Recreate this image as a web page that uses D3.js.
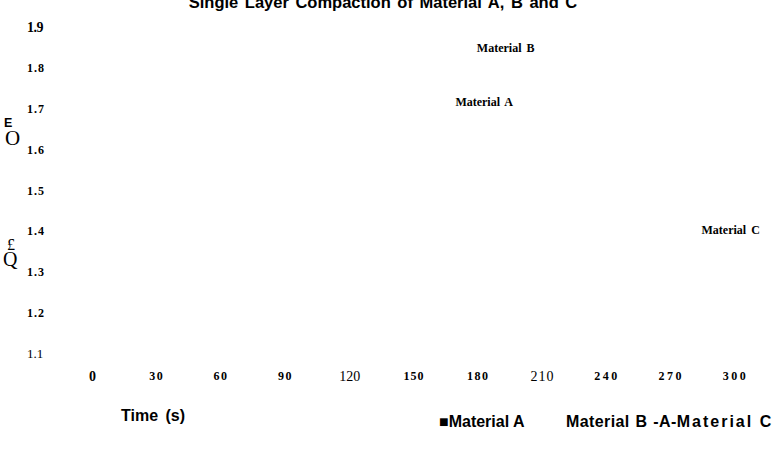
<!DOCTYPE html>
<html><head><meta charset="utf-8">
<script src="https://cdn.jsdelivr.net/npm/d3@7"></script>
<style>
html,body{margin:0;padding:0;background:#fff;}
svg{display:block;}
.domain{display:none;}
.tick line{display:none;}
</style></head>
<body>
<svg id="chart" width="772" height="460"></svg>
<script>
// ---- data ----
const xTicks = [0, 30, 60, 90, 120, 150, 180, 210, 240, 270, 300];
const yTicks = [1.1, 1.2, 1.3, 1.4, 1.5, 1.6, 1.7, 1.8, 1.9];
const seriesNames = ["Material A", "Material B", "Material C"];
const labelTimes = [183, 193, 298];        // time where each series label sits
const labelValues = [1.713, 1.846, 1.40];  // density where each series label sits
const title = "Single Layer Compaction of Material A, B and C";
const xTitle = "Time (s)";

// ---- styles (not data) ----
const xTickStyle = {
  0:{size:14,weight:"bold",ls:0}, 30:{size:12,weight:"bold",ls:1.5}, 60:{size:12,weight:"bold",ls:1.5},
  90:{size:12,weight:"bold",ls:1.5}, 120:{size:14,weight:"normal",ls:0}, 150:{size:12,weight:"bold",ls:1},
  180:{size:12,weight:"bold",ls:1.5}, 210:{size:14,weight:"normal",ls:1}, 240:{size:12,weight:"bold",ls:2.5},
  270:{size:12,weight:"bold",ls:2.5}, 300:{size:12,weight:"bold",ls:2.5}
};
const yTickStyle = v => v === 1.9 ? {size:14,weight:"bold",ls:-0.5}
  : v === 1.1 ? {size:13,weight:"normal",ls:0} : {size:12,weight:"bold",ls:1};

const svg = d3.select("#chart");
const x = d3.scaleLinear().domain([0, 300]).range([92, 735]);
const y = d3.scaleLinear().domain([1.1, 1.9]).range([352, 26]);
const serif = "'Liberation Serif','Times New Roman',serif";
const sans = "'Liberation Sans',Arial,sans-serif";

// title
svg.append("text").attr("x", 383).attr("y", 8).attr("text-anchor", "middle")
  .attr("font-family", sans).attr("font-weight", "bold").attr("font-size", 16.5)
  .attr("word-spacing", 2).text(title);

// x axis (tick labels only)
const gx = svg.append("g").attr("transform", "translate(0,376)")
  .call(d3.axisBottom(x).tickValues(xTicks).tickSize(0).tickPadding(0).tickFormat(d3.format("d")));
gx.selectAll(".tick text").each(function(d){
  const s = xTickStyle[d];
  d3.select(this).attr("font-family", serif).attr("font-size", s.size).attr("font-weight", s.weight)
    .attr("letter-spacing", s.ls).attr("fill", "#000").attr("y", 0).attr("dy", "0.35em");
});

// y axis (tick labels only)
const gy = svg.append("g").attr("transform", "translate(27,1)")
  .call(d3.axisLeft(y).tickValues(yTicks).tickSize(0).tickPadding(0).tickFormat(d3.format(".1f")));
gy.selectAll(".tick text").each(function(d){
  const s = yTickStyle(d);
  d3.select(this).attr("text-anchor", "start").attr("x", 0).attr("font-family", serif)
    .attr("font-size", s.size).attr("font-weight", s.weight).attr("letter-spacing", s.ls)
    .attr("fill", "#000").attr("dy", "0.35em");
});

// garbled y-axis title fragments
svg.append("text").attr("x", 4).attr("y", 127).attr("font-family", sans).attr("font-weight", "bold")
  .attr("font-size", 12.5).text("E");
svg.append("text").attr("x", 5).attr("y", 145).attr("font-family", serif)
  .attr("font-size", 21).text("O");
svg.append("text").attr("x", 7).attr("y", 250).attr("font-family", serif)
  .attr("font-size", 16).text("£");
svg.append("text").attr("x", 3).attr("y", 266).attr("font-family", serif)
  .attr("font-size", 20).text("Q");

// series labels at their data positions
svg.append("g").selectAll("text").data(seriesNames).join("text")
  .attr("x", (d, i) => x(labelTimes[i]))
  .attr("y", (d, i) => y(labelValues[i]))
  .attr("dy", "0.35em").attr("text-anchor", "middle")
  .attr("font-family", serif).attr("font-weight", "bold").attr("font-size", 12)
  .attr("word-spacing", 2).text(d => d);

// x axis title
svg.append("text").attr("x", 121).attr("y", 421).attr("font-family", sans).attr("font-weight", "bold")
  .attr("font-size", 16).attr("word-spacing", 3).text(xTitle);

// legend
svg.append("text").attr("x", 439).attr("y", 427).attr("font-family", sans).attr("font-weight", "bold")
  .attr("font-size", 16).text("\u25A0" + seriesNames[0]);
const leg2 = svg.append("text").attr("x", 566).attr("y", 427).attr("font-family", sans)
  .attr("font-weight", "bold").attr("font-size", 16);
leg2.append("tspan").attr("letter-spacing", 0.4).attr("word-spacing", 1).text(seriesNames[1] + " -A-");
leg2.append("tspan").attr("letter-spacing", 2).text(seriesNames[2]);
</script>
</body></html>
